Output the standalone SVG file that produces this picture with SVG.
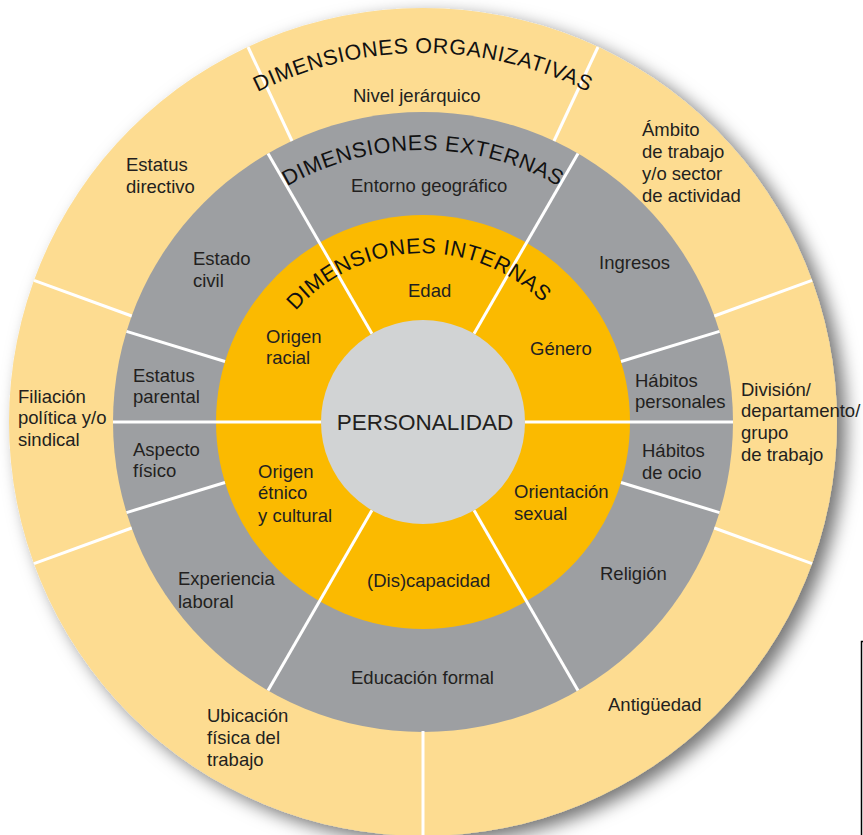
<svg xmlns="http://www.w3.org/2000/svg" width="863" height="835" viewBox="0 0 863 835">
<style>
.lbl{font-family:"Liberation Sans",Arial,Helvetica,sans-serif;font-size:18.5px;fill:#231f20}
.big{font-family:"Liberation Sans",Arial,Helvetica,sans-serif;font-size:22.5px;fill:#231f20}
.arc{font-family:"Liberation Sans",Arial,Helvetica,sans-serif;font-size:21.5px;fill:#111;letter-spacing:0.6px}
.div{stroke:#fff;stroke-width:3;fill:none}
</style>
<defs>
<filter id="sh" x="-10%" y="-10%" width="130%" height="130%">
<feDropShadow dx="9" dy="7" stdDeviation="9" flood-color="#000" flood-opacity="0.55"/>
</filter>
<path id="arcOrg" d="M54,422 A369,369 0 0 1 792,422"/>
<path id="arcExt" d="M151,422 A272,272 0 0 1 695,422"/>
<path id="arcInt" d="M254,422 A169,169 0 0 1 592,422"/>
</defs>
<rect width="863" height="835" fill="#fff"/>
<g id="ring-organizativas">
<circle cx="423" cy="422" r="414" fill="#fddc91" filter="url(#sh)"/>
</g>
<g id="ring-externas">
<circle cx="423" cy="422" r="310" fill="#9d9fa2"/>
</g>
<g id="ring-internas">
<circle cx="423" cy="422" r="207" fill="#fbba00"/>
</g>
<g id="connectors" class="div">
<line x1="292" y1="141" x2="248" y2="47"/>
<line x1="554" y1="141" x2="598" y2="47"/>
<line x1="131.7" y1="316" x2="34" y2="280.4"/>
<line x1="714.3" y1="316" x2="812" y2="280.4"/>
<line x1="131.7" y1="528" x2="34" y2="563.6"/>
<line x1="714.3" y1="528" x2="812" y2="563.6"/>
<line x1="423" y1="731" x2="423" y2="836"/>
<line x1="474" y1="333.7" x2="578" y2="153.5"/>
<line x1="372" y1="333.7" x2="268" y2="153.5"/>
<line x1="474" y1="510.3" x2="578" y2="690.5"/>
<line x1="372" y1="510.3" x2="268" y2="690.5"/>
<line x1="321" y1="422" x2="113" y2="422"/>
<line x1="525" y1="422" x2="733" y2="422"/>
<line x1="621" y1="361.5" x2="719.5" y2="331.4"/>
<line x1="225" y1="361.5" x2="126.5" y2="331.4"/>
<line x1="621" y1="482.5" x2="719.5" y2="512.6"/>
<line x1="225" y1="482.5" x2="126.5" y2="512.6"/>
</g>
<g id="personalidad">
<circle cx="423" cy="422" r="102" fill="#d1d3d4"/>
<text class="big" x="425" y="429.5" text-anchor="middle">PERSONALIDAD</text>
</g>
<g id="titles">
<text class="arc"><textPath href="#arcOrg" startOffset="50%" text-anchor="middle">DIMENSIONES ORGANIZATIVAS</textPath></text>
<text class="arc"><textPath href="#arcExt" startOffset="50%" text-anchor="middle">DIMENSIONES EXTERNAS</textPath></text>
<text class="arc"><textPath href="#arcInt" startOffset="49%" text-anchor="middle">DIMENSIONES INTERNAS</textPath></text>
</g>
<g id="organizativas-labels" class="lbl">
<g id="nivel"><text class="lbl" x="353" y="102">Nivel jerárquico</text></g>
<g id="ambito"><text class="lbl"><tspan x="642" y="136">Ámbito</tspan><tspan x="642" y="158">de trabajo</tspan><tspan x="642" y="180">y/o sector</tspan><tspan x="642" y="202">de actividad</tspan></text></g>
<g id="division"><text class="lbl"><tspan x="741" y="396">División/</tspan><tspan x="741" y="417">departamento/</tspan><tspan x="741" y="439">grupo</tspan><tspan x="741" y="461">de trabajo</tspan></text></g>
<g id="antiguedad"><text class="lbl" x="608" y="711">Antigüedad</text></g>
<g id="ubicacion"><text class="lbl"><tspan x="207" y="722">Ubicación</tspan><tspan x="207" y="744">física del</tspan><tspan x="207" y="766">trabajo</tspan></text></g>
<g id="filiacion"><text class="lbl"><tspan x="18" y="403">Filiación</tspan><tspan x="18" y="424">política y/o</tspan><tspan x="18" y="446">sindical</tspan></text></g>
<g id="estatus-directivo"><text class="lbl"><tspan x="126" y="171">Estatus</tspan><tspan x="126" y="193">directivo</tspan></text></g>
</g>
<g id="externas-labels">
<g id="entorno"><text class="lbl" x="351" y="192">Entorno geográfico</text></g>
<g id="ingresos"><text class="lbl" x="599" y="269">Ingresos</text></g>
<g id="habitos-personales"><text class="lbl"><tspan x="635" y="387">Hábitos</tspan><tspan x="635" y="408">personales</tspan></text></g>
<g id="habitos-ocio"><text class="lbl"><tspan x="642" y="457">Hábitos</tspan><tspan x="642" y="479">de ocio</tspan></text></g>
<g id="religion"><text class="lbl" x="600" y="580">Religión</text></g>
<g id="educacion"><text class="lbl" x="351" y="684">Educación formal</text></g>
<g id="experiencia"><text class="lbl"><tspan x="178" y="585">Experiencia</tspan><tspan x="178" y="608">laboral</tspan></text></g>
<g id="aspecto"><text class="lbl"><tspan x="133" y="456">Aspecto</tspan><tspan x="133" y="477">físico</tspan></text></g>
<g id="estatus-parental"><text class="lbl"><tspan x="133" y="382">Estatus</tspan><tspan x="133" y="403">parental</tspan></text></g>
<g id="estado-civil"><text class="lbl"><tspan x="193" y="265">Estado</tspan><tspan x="193" y="287">civil</tspan></text></g>
</g>
<g id="internas-labels">
<g id="edad"><text class="lbl" x="408" y="297">Edad</text></g>
<g id="genero"><text class="lbl" x="530" y="355">Género</text></g>
<g id="orientacion"><text class="lbl"><tspan x="514" y="498">Orientación</tspan><tspan x="514" y="520">sexual</tspan></text></g>
<g id="discapacidad"><text class="lbl" x="367" y="587">(Dis)capacidad</text></g>
<g id="origen-etnico"><text class="lbl"><tspan x="258" y="478">Origen</tspan><tspan x="258" y="499">étnico</tspan><tspan x="258" y="522">y cultural</tspan></text></g>
<g id="origen-racial"><text class="lbl"><tspan x="266" y="343">Origen</tspan><tspan x="266" y="364">racial</tspan></text></g>
</g>
<path d="M861.5,835 V641.5 H864" stroke="#000" stroke-width="1.5" fill="none"/>
</svg>
